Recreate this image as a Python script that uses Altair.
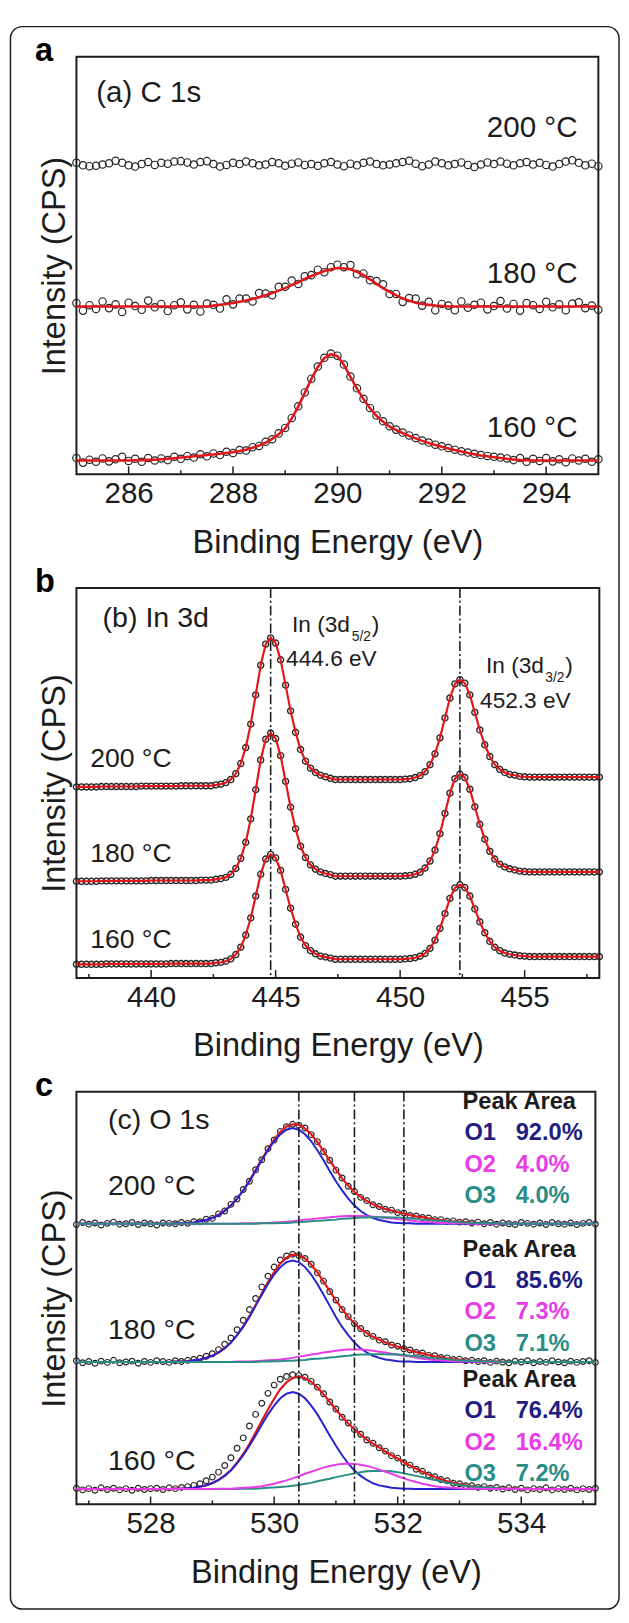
import altair as alt
import pandas as pd

FONT = "Liberation Sans"
INK = "#1c1c1c"
RED = "#e0161b"
BLUE = "#2323d2"
MAGENTA = "#e83ce8"
TEAL = "#2a8d86"
NAVY = "#1e1e82"

TEMPS = ["200 °C", "180 °C", "160 °C"]

# ---------------- (a) C 1s ----------------
A_X0, A_DX = 285.0, 0.125
A_200 = [74.6, 74.0, 73.8, 73.9, 74.2, 74.5, 75.1, 74.6, 74.0, 73.7,
         74.3, 74.8, 74.1, 74.6, 74.4, 74.9, 75.0, 74.7, 74.2, 74.8,
         75.0, 74.3, 73.7, 74.1, 74.6, 74.3, 74.9, 74.5, 74.0, 74.2,
         74.8, 74.5, 73.9, 74.4, 74.7, 74.1, 74.3, 73.9, 74.5, 74.8,
         74.2, 73.8, 74.4, 74.0, 74.6, 74.9, 74.3, 74.0, 74.2, 74.5,
         74.8, 75.1, 74.4, 73.8, 74.2, 74.9, 74.5, 74.0, 74.3, 74.7,
         74.1, 73.6, 74.2, 74.7, 74.3, 74.9, 74.4, 74.0, 74.5, 74.8,
         74.2, 74.6, 74.1, 73.7, 74.3, 74.9, 75.2, 74.6, 74.0, 74.4,
         73.8]
A_180 = [41.0, 39.2, 40.5, 39.6, 41.4, 39.8, 40.7, 38.9, 41.1, 40.3,
         39.4, 41.6, 40.0, 40.8, 39.1, 40.5, 41.2, 39.5, 40.6, 39.0,
         40.9, 40.6, 39.7, 41.9, 40.7, 42.1, 42.1, 41.4, 43.4, 43.3,
         42.9, 44.9, 44.9, 46.4, 45.6, 47.4, 47.7, 49.0, 48.4, 49.6,
         50.2, 49.6, 50.1, 47.9, 48.1, 46.5, 46.3, 45.5, 43.2, 43.2,
         41.3, 42.2, 42.1, 40.4, 41.3, 39.3, 40.8, 40.4, 39.3, 41.4,
         39.9, 40.6, 41.1, 39.5, 40.3, 41.5, 39.7, 40.8, 39.2, 41.0,
         40.5, 39.6, 41.3, 40.0, 40.7, 39.3, 40.9, 41.2, 39.8, 40.4,
         39.4]
A_180_FIT = [40.2, 40.2, 40.2, 40.2, 40.2, 40.2, 40.2, 40.2, 40.2, 40.2,
             40.2, 40.2, 40.2, 40.2, 40.2, 40.2, 40.2, 40.2, 40.2, 40.2,
             40.2, 40.4, 40.6, 40.8, 41.0, 41.3, 41.6, 42.0, 42.4, 42.9,
             43.4, 44.0, 44.6, 45.3, 46.0, 46.8, 47.5, 48.1, 48.7, 49.1,
             49.4, 49.3, 49.1, 48.5, 47.7, 46.7, 45.6, 44.6, 43.7, 42.9,
             42.1, 41.6, 41.1, 40.8, 40.6, 40.4, 40.3, 40.2, 40.2, 40.2,
             40.2, 40.2, 40.2, 40.2, 40.2, 40.2, 40.2, 40.2, 40.2, 40.2,
             40.2, 40.2, 40.2, 40.2, 40.2, 40.2, 40.2, 40.2, 40.2, 40.2,
             40.2]
A_160 = [3.9, 2.8, 3.5, 3.0, 3.8, 3.1, 3.6, 4.2, 3.2, 3.7,
         3.0, 3.9, 3.3, 3.8, 3.4, 4.2, 3.7, 4.4, 4.0, 4.8,
         4.3, 5.0, 4.6, 5.4, 5.1, 5.8, 5.7, 6.5, 6.8, 7.8,
         8.4, 9.8, 11.1, 13.5, 16.3, 19.6, 22.9, 25.8, 27.9, 28.9,
         28.4, 26.3, 23.4, 20.6, 18.1, 15.9, 14.1, 12.7, 11.5, 10.7,
         10.0, 9.3, 8.7, 8.1, 7.6, 7.1, 6.7, 6.3, 5.9, 5.5,
         5.2, 4.9, 4.6, 4.4, 4.2, 4.0, 3.8, 3.4, 3.9, 3.0,
         3.7, 3.2, 3.9, 3.1, 3.6, 2.9, 3.8, 3.3, 3.7, 3.0,
         3.6]
A_160_FIT = [3.3, 3.3, 3.3, 3.3, 3.3, 3.3, 3.3, 3.3, 3.3, 3.35,
             3.4, 3.45, 3.5, 3.6, 3.7, 3.85, 4.0, 4.15, 4.3, 4.45,
             4.6, 4.75, 4.9, 5.1, 5.3, 5.6, 5.9, 6.35, 6.9, 7.6,
             8.5, 9.6, 11.0, 13.4, 16.2, 19.5, 22.8, 25.7, 27.8, 28.8,
             28.3, 26.2, 23.3, 20.5, 18.0, 15.8, 14.0, 12.6, 11.4, 10.6,
             9.9, 9.2, 8.6, 8.0, 7.5, 7.0, 6.6, 6.2, 5.8, 5.45,
             5.1, 4.8, 4.5, 4.3, 4.1, 3.9, 3.7, 3.55, 3.4, 3.35,
             3.3, 3.3, 3.3, 3.3, 3.3, 3.3, 3.3, 3.3, 3.3, 3.3,
             3.3]
A_DOMAIN = [285, 295]
A_MAJOR = [286, 288, 290, 292, 294]
A_MINOR = [287, 289, 291, 293]

# ---------------- (b) In 3d ----------------
B_X0, B_DX = 437.0, 0.2
B_200 = [49.0, 49.0, 49.0, 49.0, 49.0, 49.1, 49.1, 49.1, 49.1, 49.1,
         49.1, 49.1, 49.1, 49.2, 49.2, 49.2, 49.2, 49.2, 49.2, 49.2,
         49.2, 49.3, 49.3, 49.3, 49.3, 49.3, 49.3, 49.3, 49.5, 49.7,
         50.1, 50.9, 52.4, 55.0, 59.1, 65.1, 72.6, 80.2, 85.6, 87.2,
         85.9, 81.6, 75.1, 68.5, 63.0, 58.6, 55.6, 53.8, 52.7, 52.0,
         51.6, 51.2, 50.9, 50.9, 50.9, 50.9, 50.9, 50.9, 50.9, 50.9,
         50.9, 50.9, 50.9, 50.9, 50.9, 50.9, 51.0, 51.1, 51.4, 51.9,
         52.9, 54.7, 57.5, 61.6, 66.7, 71.8, 75.4, 76.5, 75.6, 72.6,
         68.1, 63.6, 59.8, 56.8, 54.7, 53.5, 52.7, 52.2, 52.0, 51.7,
         51.6, 51.5, 51.5, 51.5, 51.5, 51.5, 51.5, 51.5, 51.5, 51.5,
         51.5, 51.5, 51.5, 51.5, 51.5, 51.5]
B_180 = [24.8, 24.8, 24.8, 24.8, 24.8, 24.9, 24.9, 24.9, 24.9, 24.9,
         24.9, 24.9, 24.9, 24.9, 24.9, 25.0, 25.0, 25.0, 25.0, 25.0,
         25.0, 25.0, 25.0, 25.0, 25.0, 25.1, 25.1, 25.1, 25.3, 25.5,
         25.8, 26.6, 28.1, 30.7, 34.8, 40.8, 48.3, 55.9, 61.2, 62.8,
         61.4, 57.0, 50.4, 43.8, 38.3, 33.8, 30.9, 29.0, 27.9, 27.2,
         26.8, 26.5, 26.1, 26.1, 26.1, 26.1, 26.1, 26.1, 26.1, 26.1,
         26.1, 26.1, 26.1, 26.1, 26.1, 26.1, 26.2, 26.3, 26.6, 27.1,
         28.2, 30.0, 32.8, 37.0, 42.2, 47.4, 51.1, 52.3, 51.4, 48.4,
         43.9, 39.4, 35.6, 32.5, 30.5, 29.2, 28.5, 28.0, 27.7, 27.4,
         27.3, 27.2, 27.2, 27.2, 27.2, 27.2, 27.2, 27.2, 27.2, 27.2,
         27.2, 27.2, 27.2, 27.2, 27.2, 27.2]
B_160 = [3.5, 3.5, 3.5, 3.5, 3.5, 3.5, 3.6, 3.6, 3.6, 3.6,
         3.6, 3.6, 3.6, 3.6, 3.6, 3.6, 3.6, 3.6, 3.6, 3.7,
         3.7, 3.7, 3.7, 3.7, 3.7, 3.7, 3.7, 3.7, 3.9, 4.0,
         4.3, 4.9, 6.0, 7.9, 11.0, 15.4, 21.0, 26.6, 30.5, 31.7,
         30.8, 27.6, 22.7, 17.9, 13.8, 10.5, 8.3, 7.0, 6.2, 5.6,
         5.4, 5.1, 4.8, 4.8, 4.8, 4.8, 4.8, 4.8, 4.8, 4.8,
         4.8, 4.8, 4.8, 4.8, 4.8, 4.8, 4.9, 5.0, 5.2, 5.6,
         6.3, 7.6, 9.7, 12.7, 16.5, 20.4, 23.1, 23.9, 23.2, 21.0,
         17.7, 14.4, 11.6, 9.4, 7.9, 7.0, 6.4, 6.1, 5.9, 5.7,
         5.6, 5.5, 5.5, 5.5, 5.5, 5.5, 5.5, 5.5, 5.5, 5.5,
         5.5, 5.5, 5.5, 5.5, 5.5, 5.5]
B_DOMAIN = [437, 458]
B_MAJOR = [440, 445, 450, 455]
B_MINOR = [437.5, 442.5, 447.5, 452.5, 457.5]
B_PEAKS = [444.8, 452.4]

# ---------------- (c) O 1s ----------------
C_X0, C_DX = 526.8, 0.1
C_200 = [67.8, 68.3, 67.9, 68.2, 67.7, 68.1, 68.4, 67.9, 68.0, 68.3,
         67.8, 68.2, 68.0, 67.7, 68.2, 68.1, 68.0, 68.3, 68.1, 68.5,
         68.5, 69.1, 69.3, 70.4, 71.1, 72.7, 74.0, 76.3, 78.3, 81.1,
         83.5, 86.2, 88.3, 90.4, 91.5, 92.1, 91.9, 91.2, 89.6, 87.9,
         85.5, 83.4, 81.0, 79.1, 77.1, 75.8, 74.4, 73.6, 72.6, 72.2,
         71.5, 71.3, 70.7, 70.6, 70.0, 69.9, 69.5, 69.4, 69.0, 69.0,
         68.6, 68.7, 68.4, 68.5, 68.2, 68.4, 68.0, 68.3, 67.9, 68.2,
         68.0, 67.8, 68.3, 68.1, 67.9, 68.2, 67.8, 68.3, 68.0, 67.9,
         68.2, 67.8, 68.1, 68.3, 67.9]
C_200_FIT = [68.0, 68.0, 68.0, 68.0, 68.0, 68.0, 68.0, 68.0, 68.0, 68.0,
             68.0, 68.0, 68.0, 68.0, 68.0, 68.0, 68.1, 68.1, 68.2, 68.3,
             68.6, 68.9, 69.4, 70.2, 71.2, 72.5, 74.1, 76.1, 78.4, 81.0,
             83.6, 86.1, 88.4, 90.3, 91.6, 92.1, 92.0, 91.1, 89.7, 87.8,
             85.6, 83.3, 81.1, 79.0, 77.2, 75.7, 74.5, 73.5, 72.7, 72.1,
             71.6, 71.2, 70.8, 70.5, 70.1, 69.8, 69.6, 69.3, 69.1, 68.9,
             68.7, 68.6, 68.5, 68.4, 68.3, 68.2, 68.1, 68.1, 68.1, 68.0,
             68.0, 68.0, 68.0, 68.0, 68.0, 68.0, 68.0, 68.0, 68.0, 68.0,
             68.0, 68.0, 68.0, 68.0, 68.0]
C_200_O1 = [68.0, 68.0, 68.0, 68.0, 68.0, 68.0, 68.0, 68.0, 68.0, 68.0,
            68.0, 68.0, 68.0, 68.0, 68.0, 68.0, 68.1, 68.1, 68.2, 68.3,
            68.6, 68.9, 69.4, 70.1, 71.1, 72.4, 74.1, 76.1, 78.3, 80.8,
            83.4, 85.8, 88.0, 89.7, 90.8, 91.2, 90.8, 89.7, 88.0, 85.8,
            83.4, 80.8, 78.3, 76.1, 74.1, 72.4, 71.1, 70.1, 69.4, 68.9,
            68.6, 68.3, 68.2, 68.1, 68.1, 68.0, 68.0, 68.0, 68.0, 68.0,
            68.0, 68.0, 68.0, 68.0, 68.0, 68.0, 68.0, 68.0, 68.0, 68.0,
            68.0, 68.0, 68.0, 68.0, 68.0, 68.0, 68.0, 68.0, 68.0, 68.0,
            68.0, 68.0, 68.0, 68.0, 68.0]
C_200_O2 = [68.0, 68.0, 68.0, 68.0, 68.0, 68.0, 68.0, 68.0, 68.0, 68.0,
            68.0, 68.0, 68.0, 68.0, 68.0, 68.0, 68.0, 68.0, 68.0, 68.0,
            68.0, 68.0, 68.0, 68.0, 68.0, 68.0, 68.0, 68.1, 68.1, 68.1,
            68.2, 68.2, 68.3, 68.4, 68.5, 68.6, 68.8, 69.0, 69.1, 69.3,
            69.4, 69.6, 69.7, 69.8, 69.9, 69.9, 69.9, 69.8, 69.7, 69.6,
            69.4, 69.3, 69.1, 69.0, 68.8, 68.6, 68.5, 68.4, 68.3, 68.2,
            68.2, 68.1, 68.1, 68.1, 68.0, 68.0, 68.0, 68.0, 68.0, 68.0,
            68.0, 68.0, 68.0, 68.0, 68.0, 68.0, 68.0, 68.0, 68.0, 68.0,
            68.0, 68.0, 68.0, 68.0, 68.0]
C_200_O3 = [68.0, 68.0, 68.0, 68.0, 68.0, 68.0, 68.0, 68.0, 68.0, 68.0,
            68.0, 68.0, 68.0, 68.0, 68.0, 68.0, 68.0, 68.0, 68.0, 68.0,
            68.0, 68.0, 68.0, 68.0, 68.0, 68.0, 68.0, 68.0, 68.0, 68.0,
            68.1, 68.1, 68.1, 68.2, 68.2, 68.3, 68.4, 68.5, 68.6, 68.7,
            68.8, 68.9, 69.0, 69.2, 69.3, 69.4, 69.5, 69.5, 69.6, 69.6,
            69.6, 69.5, 69.5, 69.4, 69.3, 69.2, 69.0, 68.9, 68.8, 68.7,
            68.6, 68.5, 68.4, 68.3, 68.2, 68.2, 68.1, 68.1, 68.1, 68.0,
            68.0, 68.0, 68.0, 68.0, 68.0, 68.0, 68.0, 68.0, 68.0, 68.0,
            68.0, 68.0, 68.0, 68.0, 68.0]
C_180 = [34.8, 34.3, 34.6, 34.2, 34.7, 34.4, 34.9, 34.3, 34.5, 34.7,
         34.2, 34.6, 34.4, 34.8, 34.6, 34.4, 34.8, 34.6, 34.9, 35.1,
         35.4, 35.9, 36.5, 37.5, 38.8, 40.3, 42.3, 44.6, 47.2, 49.9,
         52.7, 55.3, 57.5, 59.2, 60.2, 60.6, 60.3, 59.6, 58.2, 56.1,
         54.1, 51.6, 49.5, 47.2, 45.5, 43.8, 42.6, 41.4, 40.7, 39.8,
         39.4, 38.6, 38.3, 37.7, 37.4, 36.8, 36.7, 36.1, 36.0, 35.6,
         35.5, 35.1, 35.2, 34.8, 34.9, 34.6, 34.8, 34.4, 34.7, 34.5,
         34.3, 34.7, 34.5, 34.8, 34.3, 34.6, 34.4, 34.8, 34.5, 34.3,
         34.7, 34.4, 34.6, 34.8, 34.4]
C_180_FIT = [34.5, 34.5, 34.5, 34.5, 34.5, 34.5, 34.5, 34.5, 34.5, 34.5,
             34.5, 34.5, 34.5, 34.5, 34.5, 34.5, 34.6, 34.6, 34.7, 34.9,
             35.1, 35.5, 36.0, 36.8, 37.9, 39.2, 41.0, 43.2, 45.6, 48.3,
             51.1, 53.9, 56.3, 58.4, 59.8, 60.5, 60.4, 59.6, 58.1, 56.2,
             54.0, 51.7, 49.4, 47.3, 45.4, 43.9, 42.5, 41.5, 40.6, 39.9,
             39.3, 38.7, 38.2, 37.8, 37.3, 36.9, 36.6, 36.2, 35.9, 35.7,
             35.4, 35.2, 35.1, 34.9, 34.8, 34.7, 34.7, 34.6, 34.6, 34.6,
             34.5, 34.5, 34.5, 34.5, 34.5, 34.5, 34.5, 34.5, 34.5, 34.5,
             34.5, 34.5, 34.5, 34.5, 34.5]
C_180_O1 = [34.5, 34.5, 34.5, 34.5, 34.5, 34.5, 34.5, 34.5, 34.5, 34.5,
            34.5, 34.5, 34.5, 34.5, 34.5, 34.5, 34.6, 34.6, 34.7, 34.9,
            35.1, 35.5, 36.0, 36.8, 37.8, 39.2, 41.0, 43.0, 45.4, 48.1,
            50.8, 53.4, 55.7, 57.5, 58.7, 59.1, 58.7, 57.5, 55.7, 53.4,
            50.8, 48.1, 45.4, 43.0, 41.0, 39.2, 37.8, 36.8, 36.0, 35.5,
            35.1, 34.9, 34.7, 34.6, 34.6, 34.5, 34.5, 34.5, 34.5, 34.5,
            34.5, 34.5, 34.5, 34.5, 34.5, 34.5, 34.5, 34.5, 34.5, 34.5,
            34.5, 34.5, 34.5, 34.5, 34.5, 34.5, 34.5, 34.5, 34.5, 34.5,
            34.5, 34.5, 34.5, 34.5, 34.5]
C_180_O2 = [34.5, 34.5, 34.5, 34.5, 34.5, 34.5, 34.5, 34.5, 34.5, 34.5,
            34.5, 34.5, 34.5, 34.5, 34.5, 34.5, 34.5, 34.5, 34.5, 34.5,
            34.5, 34.5, 34.5, 34.5, 34.5, 34.5, 34.6, 34.6, 34.6, 34.7,
            34.8, 34.9, 35.0, 35.1, 35.3, 35.5, 35.8, 36.0, 36.3, 36.5,
            36.8, 37.0, 37.2, 37.4, 37.5, 37.5, 37.5, 37.4, 37.2, 37.0,
            36.8, 36.5, 36.3, 36.0, 35.8, 35.5, 35.3, 35.1, 35.0, 34.9,
            34.8, 34.7, 34.6, 34.6, 34.6, 34.5, 34.5, 34.5, 34.5, 34.5,
            34.5, 34.5, 34.5, 34.5, 34.5, 34.5, 34.5, 34.5, 34.5, 34.5,
            34.5, 34.5, 34.5, 34.5, 34.5]
C_180_O3 = [34.5, 34.5, 34.5, 34.5, 34.5, 34.5, 34.5, 34.5, 34.5, 34.5,
            34.5, 34.5, 34.5, 34.5, 34.5, 34.5, 34.5, 34.5, 34.5, 34.5,
            34.5, 34.5, 34.5, 34.5, 34.5, 34.5, 34.5, 34.5, 34.5, 34.5,
            34.6, 34.6, 34.7, 34.7, 34.8, 34.8, 34.9, 35.0, 35.2, 35.3,
            35.4, 35.6, 35.7, 35.9, 36.0, 36.2, 36.3, 36.3, 36.4, 36.4,
            36.4, 36.3, 36.3, 36.2, 36.0, 35.9, 35.7, 35.6, 35.4, 35.3,
            35.2, 35.0, 34.9, 34.8, 34.8, 34.7, 34.7, 34.6, 34.6, 34.5,
            34.5, 34.5, 34.5, 34.5, 34.5, 34.5, 34.5, 34.5, 34.5, 34.5,
            34.5, 34.5, 34.5, 34.5, 34.5]
C_160 = [3.9, 3.5, 3.8, 3.4, 4.0, 3.6, 3.9, 3.5, 3.8, 3.4,
         3.9, 3.6, 3.8, 3.9, 3.6, 4.0, 3.8, 4.1, 4.3, 4.6,
         5.0, 5.7, 6.6, 7.8, 9.4, 11.3, 13.6, 16.1, 19.0, 21.8,
         24.5, 26.9, 28.9, 30.3, 31.0, 31.4, 31.2, 30.8, 29.8, 28.4,
         26.8, 24.8, 23.1, 21.1, 19.7, 18.1, 17.0, 15.6, 14.8, 13.7,
         12.9, 11.8, 11.2, 10.1, 9.5, 8.5, 8.0, 7.1, 6.7, 6.0,
         5.7, 5.1, 5.0, 4.5, 4.5, 4.1, 4.3, 3.9, 4.1, 3.7,
         4.0, 3.6, 3.9, 3.5, 3.8, 3.6, 4.0, 3.5, 3.8, 3.6,
         3.9, 3.5, 3.8, 3.6, 3.9]
C_160_FIT = [3.7, 3.7, 3.7, 3.7, 3.7, 3.7, 3.7, 3.7, 3.7, 3.7,
             3.7, 3.7, 3.7, 3.7, 3.7, 3.7, 3.8, 3.8, 3.9, 4.0,
             4.3, 4.6, 5.2, 5.9, 7.0, 8.3, 10.1, 12.2, 14.6, 17.4,
             20.2, 23.0, 25.6, 27.9, 29.6, 30.6, 31.0, 30.6, 29.7, 28.3,
             26.7, 24.8, 23.0, 21.2, 19.6, 18.2, 16.9, 15.7, 14.7, 13.8,
             12.8, 11.9, 11.1, 10.2, 9.4, 8.6, 7.9, 7.2, 6.6, 6.1,
             5.6, 5.2, 4.9, 4.6, 4.4, 4.2, 4.1, 4.0, 3.9, 3.8,
             3.8, 3.8, 3.7, 3.7, 3.7, 3.7, 3.7, 3.7, 3.7, 3.7,
             3.7, 3.7, 3.7, 3.7, 3.7]
C_160_O1 = [3.7, 3.7, 3.7, 3.7, 3.7, 3.7, 3.7, 3.7, 3.7, 3.7,
            3.7, 3.7, 3.7, 3.7, 3.7, 3.7, 3.8, 3.8, 3.9, 4.0,
            4.3, 4.6, 5.1, 5.9, 6.9, 8.2, 9.9, 11.9, 14.2, 16.7,
            19.3, 21.8, 23.9, 25.7, 26.8, 27.2, 26.8, 25.7, 23.9, 21.8,
            19.3, 16.7, 14.2, 11.9, 9.9, 8.2, 6.9, 5.9, 5.1, 4.6,
            4.3, 4.0, 3.9, 3.8, 3.8, 3.7, 3.7, 3.7, 3.7, 3.7,
            3.7, 3.7, 3.7, 3.7, 3.7, 3.7, 3.7, 3.7, 3.7, 3.7,
            3.7, 3.7, 3.7, 3.7, 3.7, 3.7, 3.7, 3.7, 3.7, 3.7,
            3.7, 3.7, 3.7, 3.7, 3.7]
C_160_O2 = [3.7, 3.7, 3.7, 3.7, 3.7, 3.7, 3.7, 3.7, 3.7, 3.7,
            3.7, 3.7, 3.7, 3.7, 3.7, 3.7, 3.7, 3.7, 3.7, 3.7,
            3.7, 3.7, 3.7, 3.8, 3.8, 3.8, 3.9, 4.0, 4.1, 4.2,
            4.4, 4.7, 5.0, 5.4, 5.8, 6.3, 6.8, 7.4, 7.9, 8.4,
            8.9, 9.3, 9.6, 9.8, 9.9, 9.8, 9.6, 9.3, 8.9, 8.4,
            7.9, 7.4, 6.8, 6.3, 5.8, 5.4, 5.0, 4.7, 4.4, 4.2,
            4.1, 4.0, 3.9, 3.8, 3.8, 3.8, 3.7, 3.7, 3.7, 3.7,
            3.7, 3.7, 3.7, 3.7, 3.7, 3.7, 3.7, 3.7, 3.7, 3.7,
            3.7, 3.7, 3.7, 3.7, 3.7]
C_160_O3 = [3.7, 3.7, 3.7, 3.7, 3.7, 3.7, 3.7, 3.7, 3.7, 3.7,
            3.7, 3.7, 3.7, 3.7, 3.7, 3.7, 3.7, 3.7, 3.7, 3.7,
            3.7, 3.7, 3.7, 3.7, 3.7, 3.7, 3.7, 3.8, 3.8, 3.8,
            3.9, 4.0, 4.1, 4.2, 4.3, 4.5, 4.7, 5.0, 5.2, 5.6,
            5.9, 6.2, 6.6, 6.9, 7.2, 7.5, 7.8, 8.0, 8.1, 8.1,
            8.1, 8.0, 7.8, 7.5, 7.2, 6.9, 6.6, 6.2, 5.9, 5.6,
            5.2, 5.0, 4.7, 4.5, 4.3, 4.2, 4.1, 4.0, 3.9, 3.8,
            3.8, 3.8, 3.7, 3.7, 3.7, 3.7, 3.7, 3.7, 3.7, 3.7,
            3.7, 3.7, 3.7, 3.7, 3.7]
C_DOMAIN = [526.8, 535.2]
C_MAJOR = [528, 530, 532, 534]
C_MINOR = [527, 529, 531, 533, 535]
C_PEAKS = [530.4, 531.3, 532.1]
C_COMPONENTS = ["O1", "O2", "O3"]
C_AREA = {"200 °C": ["92.0%", "4.0%", "4.0%"],
          "180 °C": ["85.6%", "7.3%", "7.1%"],
          "160 °C": ["76.4%", "16.4%", "7.2%"]}

# ---------------- layout (pixels / positions) ----------------
WA, HA = 530, 424
WB, HB = 531, 396
WC, HC = 527, 419
TICK_FS, TITLE_FS, YTITLE_FS = 30, 33, 33


def grid(x0, dx, n):
    return [round(x0 + dx * i, 4) for i in range(n)]


def long(x, series):
    rows = []
    for name, vals in series.items():
        if len(vals) != len(x):
            raise ValueError(f"{name}: {len(vals)} values vs {len(x)} x")
        rows += [{"x": a, "y": b, "s": name} for a, b in zip(x, vals)]
    return pd.DataFrame(rows)


def encodings(domain, major):
    X = alt.X("x:Q", scale=alt.Scale(domain=domain, nice=False, zero=False),
              axis=alt.Axis(values=major, format="d", ticks=False, domain=False, grid=False,
                            labelFontSize=TICK_FS, labelPadding=5, labelColor=INK, labelFont=FONT,
                            title="Binding Energy (eV)", titleFontSize=TITLE_FS,
                            titleFontWeight="normal", titleColor=INK, titleFont=FONT,
                            titlePadding=18))
    Y = alt.Y("y:Q", scale=alt.Scale(domain=[0, 100], nice=False, zero=False),
              axis=alt.Axis(labels=False, ticks=False, domain=False, grid=False,
                            title="Intensity (CPS)", titleFontSize=YTITLE_FS,
                            titleFontWeight="normal", titleColor=INK, titleFont=FONT,
                            titlePadding=5))
    return X, Y


def ticks(X, major, minor, H):
    maj = alt.Chart(pd.DataFrame({"x": major})).mark_rule(color=INK, strokeWidth=1.5).encode(
        x=X, y=alt.value(H), y2=alt.value(H - 8))
    mnr = alt.Chart(pd.DataFrame({"x": minor})).mark_rule(color=INK, strokeWidth=1.5).encode(
        x=X, y=alt.value(H), y2=alt.value(H - 4))
    return [maj, mnr]


def texts(X, Y, xs, ys, labels, size, align="left", weight="normal", colors=None):
    df = pd.DataFrame({"x": xs, "y": ys, "t": labels,
                       "c": colors if colors else [INK] * len(labels)})
    return alt.Chart(df).mark_text(font=FONT, fontSize=size, align=align, baseline="middle",
                                   fontWeight=weight).encode(
        x=X, y=Y, text="t:N", color=alt.Color("c:N", scale=None))


def letter(ch):
    return alt.Chart(pd.DataFrame({"t": [ch]})).mark_text(
        font=FONT, fontSize=33, fontWeight="bold", align="left", baseline="alphabetic",
        color="#000000").encode(x=alt.value(-42), y=alt.value(4.5), text="t:N")


def vlines(X, xs, H):
    return alt.Chart(pd.DataFrame({"x": xs})).mark_rule(
        color=INK, strokeWidth=1.6, strokeDash=[10, 3, 2, 3]).encode(
        x=X, y=alt.value(0), y2=alt.value(H))


def points(X, Y, df, size, sw=1.2):
    return alt.Chart(df).mark_point(shape="circle", filled=False, size=size, strokeWidth=sw,
                                    color="#262626", opacity=1).encode(x=X, y=Y, detail="s:N")


def lines(X, Y, df, color, width):
    return alt.Chart(df).mark_line(color=color, strokeWidth=width).encode(
        x=X, y=Y, detail="s:N")


# ---------------- panel a ----------------
ax = grid(A_X0, A_DX, len(A_200))
Xa, Ya = encodings(A_DOMAIN, A_MAJOR)
border = alt.Chart(pd.DataFrame({"k": [0]})).mark_rect(
    fillOpacity=0, stroke=INK, strokeWidth=1.5, cornerRadius=12).encode(
    x=alt.value(-67), x2=alt.value(551), y=alt.value(-30.6), y2=alt.value(1576.4))
pa = alt.layer(
    border,
    points(Xa, Ya, long(ax, {"200": A_200, "180": A_180, "160": A_160}), 56, 1.2),
    lines(Xa, Ya, long(ax, {"180": A_180_FIT, "160": A_160_FIT}), RED, 2.6),
    *ticks(Xa, A_MAJOR, A_MINOR, HA),
    texts(Xa, Ya, [285.38], [91.4], ["(a) C 1s"], 30),
    texts(Xa, Ya, [294.6] * 3, [82.9, 48.0, 11.0], TEMPS, 30, align="right"),
    letter("a"),
).properties(width=WA, height=HA)

# ---------------- panel b ----------------
bx = grid(B_X0, B_DX, len(B_200))
Xb, Yb = encodings(B_DOMAIN, B_MAJOR)
bdf = long(bx, {"200": B_200, "180": B_180, "160": B_160})
pb = alt.layer(
    vlines(Xb, B_PEAKS, HB),
    points(Xb, Yb, bdf, 38, 1.4),
    lines(Xb, Yb, bdf, RED, 2.2),
    *ticks(Xb, B_MAJOR, B_MINOR, HB),
    texts(Xb, Yb, [438.05], [92.2], ["(b) In 3d"], 29),
    texts(Xb, Yb, [437.55] * 3, [56.1, 31.8, 9.6], TEMPS, 27),
    texts(Xb, Yb, [445.66, 448.86, 445.42, 453.45, 456.63, 453.21],
          [90.4, 90.4, 81.8, 80.1, 80.1, 71.0],
          ["In (3d", ")", "444.6 eV", "In (3d", ")", "452.3 eV"], 23),
    texts(Xb, Yb, [448.06, 455.83], [87.4, 76.9], ["5/2", "3/2"], 14),
    letter("b"),
).properties(width=WB, height=HB)

# ---------------- panel c ----------------
cx = grid(C_X0, C_DX, len(C_200))
Xc, Yc = encodings(C_DOMAIN, C_MAJOR)
area_rows_x, area_rows_y, area_rows_t, area_rows_c = [], [], [], []
pct_x, pct_y, pct_t, pct_c = [], [], [], []
comp_colors = [NAVY, MAGENTA, TEAL]
for temp, top in zip(TEMPS, [97.5, 61.7, 30.1]):
    area_rows_x.append(533.05); area_rows_y.append(top)
    area_rows_t.append("Peak Area"); area_rows_c.append(INK)
    for i, comp in enumerate(C_COMPONENTS):
        yy = top - 7.6 * (i + 1)
        area_rows_x.append(533.08); area_rows_y.append(yy)
        area_rows_t.append(comp); area_rows_c.append(comp_colors[i])
        pct_x.append(533.91); pct_y.append(yy)
        pct_t.append(C_AREA[temp][i]); pct_c.append(comp_colors[i])

pc = alt.layer(
    points(Xc, Yc, long(cx, {"200": C_200, "180": C_180, "160": C_160}), 34, 1.2),
    lines(Xc, Yc, long(cx, {"200": C_200_FIT, "180": C_180_FIT, "160": C_160_FIT}), RED, 2.2),
    lines(Xc, Yc, long(cx, {"200": C_200_O1, "180": C_180_O1, "160": C_160_O1}), BLUE, 2.0),
    lines(Xc, Yc, long(cx, {"200": C_200_O2, "180": C_180_O2}), MAGENTA, 2.0),
    lines(Xc, Yc, long(cx, {"200": C_200_O3, "180": C_180_O3, "160": C_160_O3}), TEAL, 2.0),
    lines(Xc, Yc, long(cx, {"160": C_160_O2}), MAGENTA, 2.0),
    vlines(Xc, C_PEAKS, HC),
    *ticks(Xc, C_MAJOR, C_MINOR, HC),
    texts(Xc, Yc, [527.31], [93.2], ["(c) O 1s"], 29),
    texts(Xc, Yc, [527.31] * 3, [77.2, 42.3, 10.4], TEMPS, 29),
    texts(Xc, Yc, area_rows_x, area_rows_y, area_rows_t, 24, weight="bold", colors=area_rows_c),
    texts(Xc, Yc, pct_x, pct_y, pct_t, 24, weight="bold", colors=pct_c),
    letter("c"),
).properties(width=WC, height=HC)

chart = alt.vconcat(pa, pb, pc, spacing=115.5, bounds="flush").properties(
    padding={"left": 0.5, "top": 4, "right": 0, "bottom": 0}
).configure(font=FONT, background="white").configure_view(stroke=INK, strokeWidth=2)

chart.save("out.html", embed_options={"renderer": "svg", "actions": False})
